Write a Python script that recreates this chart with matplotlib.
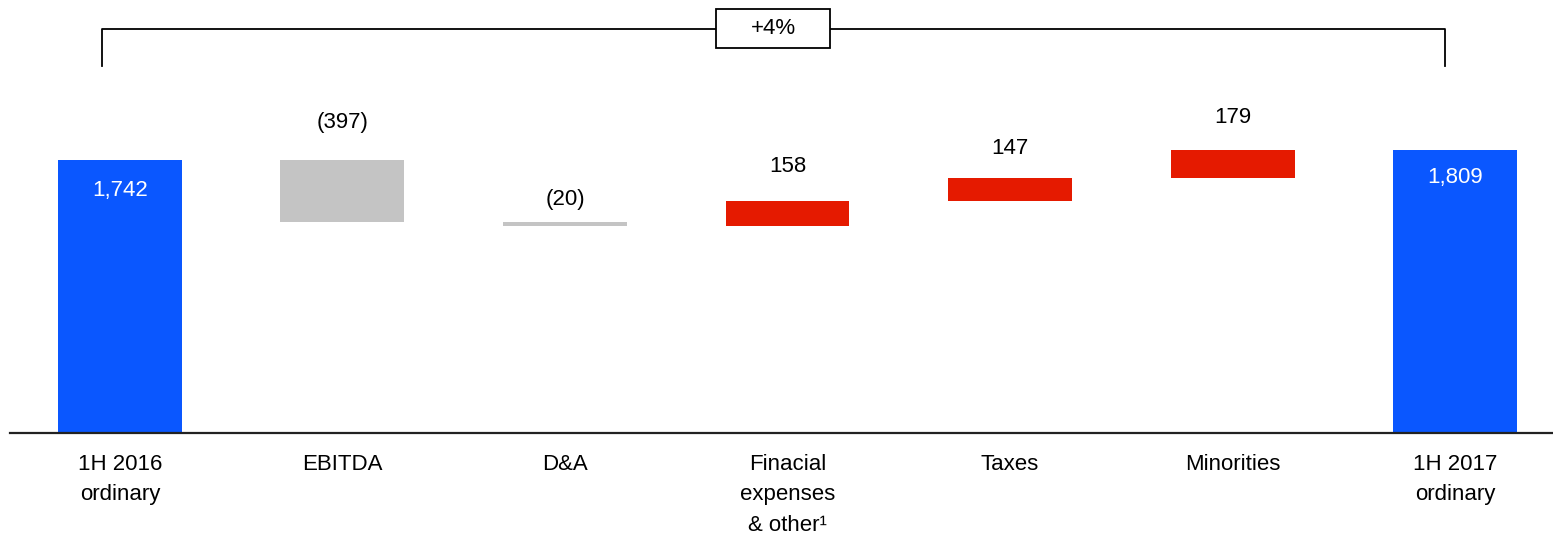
import matplotlib.pyplot as plt
import matplotlib.patches as mpatches
import numpy as np

plt.rcParams['font.family'] = ['Liberation Sans', 'DejaVu Sans']

# data
categories = ['1H 2016\nordinary', 'EBITDA', 'D&A', 'Finacial\nexpenses\n& other\u00b9',
              'Taxes', 'Minorities', '1H 2017\nordinary']
values = [1742, -397, -20, 158, 147, 179, 1809]
labels = ['1,742', '(397)', '(20)', '158', '147', '179', '1,809']
is_total = [True, False, False, False, False, False, True]
change_label = '+4%'

# label offsets from bar top (points), as placed in the original
label_offsets = [-21.5, 27.0, 16.5, 24.5, 21.0, 23.0, -19.8]

BLUE = '#0A57FF'
GREY = '#C4C4C4'
RED = '#E51A00'

fig = plt.figure(figsize=(15.53, 5.38), dpi=100)
ax = fig.add_axes([10 / 1553, 105 / 538, 1 - 10 / 1553, 433 / 538])

x = np.arange(len(categories))
width = 0.557
running = 0
bottoms, heights, colors = [], [], []
for v, tot in zip(values, is_total):
    if tot:
        bottoms.append(0)
        heights.append(v)
        colors.append(BLUE)
        running = v
    else:
        if v < 0:
            bottoms.append(running + v)
            heights.append(-v)
            colors.append(GREY)
        else:
            bottoms.append(running)
            heights.append(v)
            colors.append(RED)
        running += v

ax.bar(x, heights, width, bottom=bottoms, color=colors, zorder=2)

for xi, b, h, lab, tot, off in zip(x, bottoms, heights, labels, is_total, label_offsets):
    ax.annotate(lab, (xi, b + h), xytext=(0, off), textcoords='offset points',
                ha='center', va='center', color='white' if tot else 'black', fontsize=16)

ax.set_xlim(-0.494, 6.44)
ax.set_ylim(0, 2765)

for s in ['top', 'right', 'left']:
    ax.spines[s].set_visible(False)
ax.spines['bottom'].set_linewidth(1.6)
ax.spines['bottom'].set_color('#222222')
ax.set_yticks([])
ax.set_xticks(x)
ax.set_xticklabels(categories, fontsize=16, linespacing=1.6, va='top')
ax.tick_params(axis='x', length=0, pad=15)

# bracket showing change between totals
y_line, y_drop = 2580, 2343
xl, xr = -0.081, 5.955
ax.plot([xl, xl, xr, xr], [y_drop, y_line, y_line, y_drop], color='black', lw=1.3,
        clip_on=False, zorder=1)
bx, bw, bh = 2.935, 0.512, 249
ax.add_patch(mpatches.Rectangle((bx - bw / 2, y_line - bh / 2), bw, bh, facecolor='white',
                                edgecolor='black', lw=1.3, clip_on=False, zorder=3))
ax.text(bx, y_line, change_label, ha='center', va='center', fontsize=16, zorder=4)

fig.savefig('out.png', dpi=100)
